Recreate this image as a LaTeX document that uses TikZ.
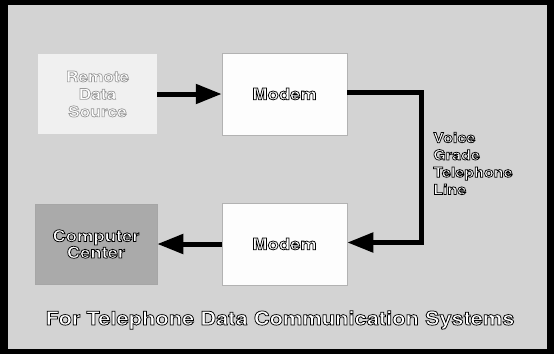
\documentclass[tikz,border=0pt]{standalone}
\usepackage{fontspec}
\setmainfont{TeX Gyre Heros}[FakeStretch=1.15]
\usetikzlibrary{arrows.meta}
\definecolor{bggray}{HTML}{D3D3D3}
\definecolor{boxwhite}{HTML}{FDFDFD}
\definecolor{remotefill}{HTML}{F0F0F0}
\definecolor{ccfill}{HTML}{AAAAAA}
% white text with a black (or grey) stroked outline, via PDF text render mode 2
\newcommand{\outl}[1]{{\color{white}\special{pdf:literal direct 2 Tr 0.75 w 0 G}#1\special{pdf:literal direct 0 Tr}}}
\newcommand{\outlight}[1]{{\color{white}\special{pdf:literal direct 2 Tr 0.7 w 0.6 G}#1\special{pdf:literal direct 0 Tr}}}
\tikzset{
  blk/.style={inner sep=0pt, align=center},
  modembox/.style={blk, fill=boxwhite, draw=gray!60, line width=0.5pt, minimum width=125pt, minimum height=82pt, font=\bfseries\fontsize{16}{18}\selectfont},
  bigarrow/.style={line width=5pt, -{Triangle[length=26pt,width=19pt]}},
}
\begin{document}
\begin{tikzpicture}[x=1pt,y=-1pt]
\useasboundingbox (0,0) rectangle (554,354);
\fill[black] (0,0) rectangle (554,354);
\fill[bggray] (8,5) rectangle (547,349);
\node[blk, fill=remotefill, minimum width=119pt, minimum height=80pt, font=\bfseries\fontsize{15}{17.5}\selectfont] (remote) at (97.5,94) {\outlight{Remote}\\\outlight{Data}\\\outlight{Source}};
\node[modembox] (modem1) at (284.5,94) {\outl{Modem}};
\node[modembox] (modem2) at (284.5,244) {\outl{Modem}};
\node[blk, fill=ccfill, draw=gray!70, line width=0.5pt, minimum width=122pt, minimum height=80pt, font=\bfseries\fontsize{16}{16.5}\selectfont] (cc) at (96,244) {\outl{Computer}\\\outl{Center}};
\coordinate (c1) at (421.5,92.5);
\coordinate (c2) at (421.5,242.5);
\draw[bigarrow] (remote.east) -- (modem1.west);
\draw[line width=5pt] (modem1.east |- c1) -- ([xshift=2.5pt]c1);
\draw[bigarrow] (c1) -- (c2) -- (modem2.east |- c2);
\draw[bigarrow] (modem2.west) -- (cc.east);
\node[anchor=north west, align=left, inner sep=0pt, font=\bfseries\fontsize{14}{17.3}\selectfont] (voice) at (433,132) {\outl{Voice}\\\outl{Grade}\\\outl{Telephone}\\\outl{Line}};
\node[inner sep=0pt, font=\bfseries\fontsize{19}{22}\selectfont] (caption) at (280,320) {\outl{For Telephone Data Communication Systems}};
\end{tikzpicture}
\end{document}
